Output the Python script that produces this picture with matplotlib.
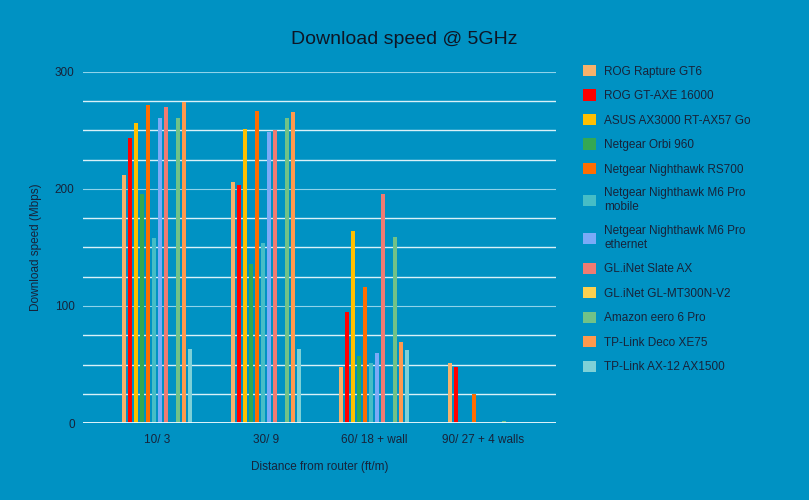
import numpy as np
import matplotlib
matplotlib.use("Agg")
import matplotlib.pyplot as plt
from matplotlib.ticker import MultipleLocator

plt.rcParams["font.family"] = ["Liberation Sans", "DejaVu Sans"]

# distance categories on the x axis
categories = ["10/ 3", "30/ 9", "60/ 18 + wall", "90/ 27 + 4 walls"]

# routers and their download speeds (Mbps) per distance
routers = [
    "ROG Rapture GT6",
    "ROG GT-AXE 16000",
    "ASUS AX3000 RT-AX57 Go",
    "Netgear Orbi 960",
    "Netgear Nighthawk RS700",
    "Netgear Nighthawk M6 Pro\nmobile",
    "Netgear Nighthawk M6 Pro\nethernet",
    "GL.iNet Slate AX",
    "GL.iNet GL-MT300N-V2",
    "Amazon eero 6 Pro",
    "TP-Link Deco XE75",
    "TP-Link AX-12 AX1500",
]
rog_gt6 = [212, 206, 48, 51]
rog_axe = [244, 203, 95, 48]
asus_ax57 = [256, 251, 164, 0]
orbi_960 = [196, 136, 57, 0]
rs700 = [272, 267, 116, 25]
m6_mobile = [158, 154, 51, 0]
m6_ethernet = [261, 249, 60, 0]
slate_ax = [270, 250, 196, 0]
mt300n = [0, 0, 0, 0]
eero_6 = [261, 261, 159, 2]
deco_xe75 = [274, 266, 69, 0]
ax12 = [63, 63, 62, 0]
speeds = [rog_gt6, rog_axe, asus_ax57, orbi_960, rs700, m6_mobile,
          m6_ethernet, slate_ax, mt300n, eero_6, deco_xe75, ax12]

colors = ["#F6B26B", "#FF0000", "#FFC000", "#34A853", "#FF6D01", "#46BDC6",
          "#7BAAF7", "#F07B72", "#FCD04F", "#71C287", "#FF994D", "#7ED1D7"]

bg = "#0092C3"
txt = "#17233a"

fig = plt.figure(figsize=(8.09, 5.0), dpi=100, facecolor=bg)
ax = fig.add_axes([83 / 809, 1 - 423 / 500, (556 - 83) / 809, (423 - 72) / 500])
ax.set_facecolor(bg)

x = np.arange(len(categories))
pitch = 0.0552
width = 0.037
n = len(routers)
for i, (name, vals, c) in enumerate(zip(routers, speeds, colors)):
    offs = (i - (n - 1) / 2) * pitch
    ax.bar(x + offs, vals, width=width, color=c, label=name, zorder=3)

ax.set_xlim(-0.68, 3.67)
ax.set_ylim(0, 300)
ax.yaxis.set_major_locator(MultipleLocator(100))
ax.yaxis.set_minor_locator(MultipleLocator(25))
ax.grid(axis="y", which="minor", color="#d9f1f8", linewidth=1.0, zorder=0)
ax.grid(axis="y", which="major", color="#8fd3ea", linewidth=0.8, zorder=0)
ax.axhline(0, color="#f2fbff", linewidth=1.3, zorder=4)
for s in ax.spines.values():
    s.set_visible(False)
ax.tick_params(axis="both", which="both", length=0, colors=txt, labelsize=8.5)
ax.tick_params(axis="y", pad=6)
ax.tick_params(axis="x", pad=8)
ax.set_xticks(x)
ax.set_xticklabels(categories)

ax.set_ylabel("Download speed (Mbps)", fontsize=8.5, color=txt, labelpad=9)
ax.set_xlabel("Distance from router (ft/m)", fontsize=8.5, color=txt, labelpad=11)
fig.suptitle("Download speed @ 5GHz", fontsize=14, color="#0e1626",
             y=1 - 40 / 500, va="center")

leg = ax.legend(loc="upper left", bbox_to_anchor=(583 / 809, 1 - 65 / 500),
                bbox_transform=fig.transFigure, frameon=False, fontsize=8.5,
                handlelength=1.1, handleheight=1.1, handletextpad=0.7,
                labelspacing=1.0, borderpad=0, borderaxespad=0)
for t in leg.get_texts():
    t.set_color(txt)

fig.savefig("out.png", dpi=100, facecolor=bg)
